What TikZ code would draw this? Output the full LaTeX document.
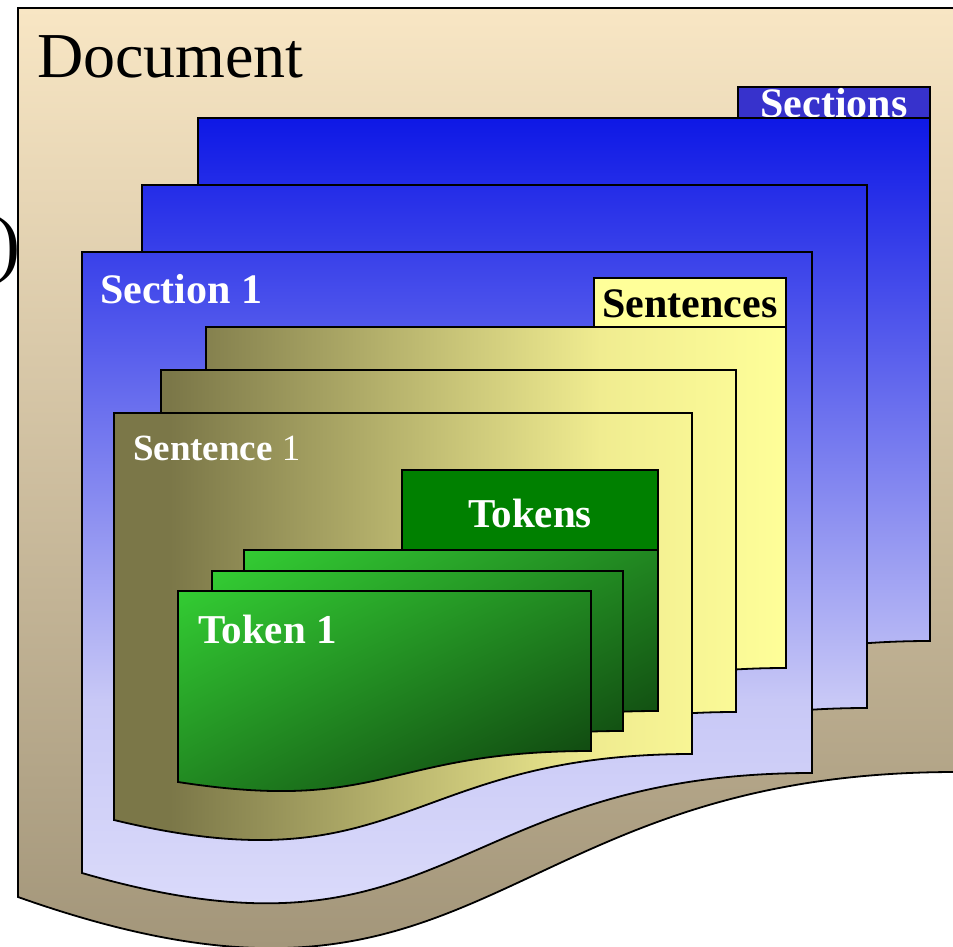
\documentclass[tikz,border=0pt]{standalone}
\usepackage{fontspec}
\setmainfont{Liberation Serif}
\usetikzlibrary{shadings}
\definecolor{docA}{RGB}{248,230,196}
\definecolor{docB}{RGB}{163,150,122}
\definecolor{blueA}{RGB}{14,24,230}
\definecolor{blueB}{RGB}{200,200,246}
\definecolor{blueC}{RGB}{222,222,251}
\definecolor{secTab}{RGB}{55,50,204}
\definecolor{olA}{RGB}{123,119,72}
\definecolor{olB}{RGB}{240,236,144}
\definecolor{olC}{RGB}{255,255,153}
\definecolor{senTab}{RGB}{255,255,153}
\definecolor{tkA}{RGB}{51,204,51}
\definecolor{tkM}{RGB}{33,135,33}
\definecolor{tkB}{RGB}{13,60,13}
\definecolor{tokTab}{RGB}{0,128,0}
\tikzset{
  outl/.style={draw=black, line width=1.8pt, line join=miter},
  tokshade/.style={upper left=tkA, upper right=tkM, lower left=tkM, lower right=tkB},
  lbl/.style={inner sep=0pt, outer sep=0pt},
  bigbold/.style={lbl, font=\fontsize{42}{48}\selectfont\bfseries},
}
% shape outlines
\def\docP{(18,8) -- (956,8) -- (956,772) .. controls (487,772) and (487,1063) .. (18,897) -- cycle}
\def\secA{(198,118) -- (930,118) -- (930,641) .. controls (564,641) and (564,847) .. (198,741) -- cycle}
\def\secB{(142,185) -- (867,185) -- (867,708) .. controls (504.5,708) and (504.5,914) .. (142,808) -- cycle}
\def\secC{(82,252) -- (812,252) -- (812,773) .. controls (447,773) and (447,979) .. (82,873) -- cycle}
\def\senA{(206,327) -- (786,327) -- (786,668) .. controls (496,668) and (496,804) .. (206,734) -- cycle}
\def\senB{(161,370) -- (736,370) -- (736,712) .. controls (448.5,712) and (448.5,848) .. (161,778) -- cycle}
\def\senC{(114,413) -- (692,413) -- (692,754) .. controls (403,754) and (403,890) .. (114,820) -- cycle}
\def\tokA{(244,550) -- (658,550) -- (658,711) .. controls (451,711) and (451,774) .. (244,742) -- cycle}
\def\tokB{(212,571) -- (623,571) -- (623,731) .. controls (417.5,731) and (417.5,794) .. (212,762) -- cycle}
\def\tokC{(178,591) -- (591,591) -- (591,751) .. controls (384.5,751) and (384.5,814) .. (178,782) -- cycle}
\newcommand\secfillpath{%
  \shade[top color=blueA, bottom color=blueB] (0,118) rectangle (960,700.5);
  \shade[top color=blueB, bottom color=blueC] (0,700) rectangle (960,950);}
\newcommand\senfillpath{%
  \fill[olA] (0,0) rectangle (171,950);
  \shade[left color=olA, right color=olB] (170,0) rectangle (600.5,950);
  \shade[left color=olB, right color=olC] (600,0) rectangle (790.5,950);
  \fill[olC] (790,0) rectangle (960,950);}
\begin{document}
\begin{tikzpicture}[x=1pt, y=-1pt]
\clip (0,0) rectangle (953,947);

% stray parenthesis at the left border
\node[lbl, font=\fontsize{75}{80}\selectfont, anchor=east] (paren) at (20,250) {)};

% Document
\begin{scope}\clip \docP; \shade[top color=docA, bottom color=docB] (0,8) rectangle (960,947);\end{scope}
\draw[outl] \docP;
\node[lbl, font=\fontsize{64}{70}\selectfont, anchor=base west] (doc) at (37,78) {Document};

% Sections tab
\path[outl, fill=secTab] (738,87) rectangle (930,118);
\node[bigbold, text=white, anchor=base] (sections) at (834,118) {Sections};

% Section documents
\begin{scope}\clip \secA; \secfillpath\end{scope}
\draw[outl] \secA;
\begin{scope}\clip \secB; \secfillpath\end{scope}
\draw[outl] \secB;
\begin{scope}\clip \secC; \secfillpath\end{scope}
\draw[outl] \secC;
\node[bigbold, text=white, anchor=base west] (sec1) at (100,303) {Section 1};

% Sentences tab
\path[outl, fill=senTab] (594,278) rectangle (786,327);
\node[bigbold, text=black, anchor=base] (sentences) at (690,317) {Sentences};

% Sentence documents
\begin{scope}\clip \senA; \senfillpath\end{scope}
\draw[outl] \senA;
\begin{scope}\clip \senB; \senfillpath\end{scope}
\draw[outl] \senB;
\begin{scope}\clip \senC; \senfillpath\end{scope}
\draw[outl] \senC;
\node[lbl, text=white, font=\fontsize{37}{42}\selectfont, anchor=base west] (sen1) at (133,460) {\textbf{Sentence} 1};

% Tokens tab
\path[outl, fill=tokTab] (402,470) rectangle (658,550);
\node[lbl, text=white, font=\fontsize{41}{46}\selectfont\bfseries, anchor=base] (tokens) at (530,527) {Tokens};

% Token documents
\begin{scope}\clip \tokA; \shade[tokshade] (244,550) rectangle (658,772);\end{scope}
\draw[outl] \tokA;
\begin{scope}\clip \tokB; \shade[tokshade] (212,571) rectangle (623,792);\end{scope}
\draw[outl] \tokB;
\begin{scope}\clip \tokC; \shade[tokshade] (178,591) rectangle (591,792);\end{scope}
\draw[outl] \tokC;
\node[lbl, text=white, font=\fontsize{41}{46}\selectfont\bfseries, anchor=base west] (tok1) at (198,643) {Token 1};
\end{tikzpicture}
\end{document}
